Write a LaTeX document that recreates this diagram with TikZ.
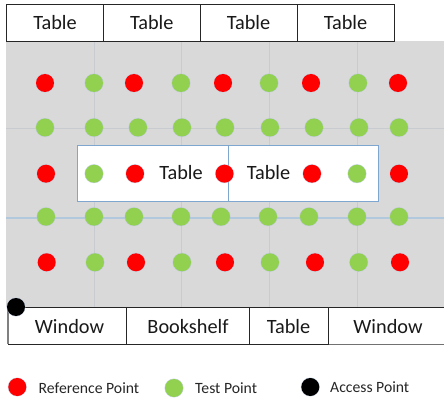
\documentclass[tikz,border=0pt]{standalone}
\usepackage{fontspec}
\setmainfont{Carlito}
\definecolor{roomgray}{HTML}{D9D9D9}
\definecolor{ptgreen}{HTML}{92D050}
\definecolor{ptred}{HTML}{FF0000}
\definecolor{gridgray}{HTML}{C8CBCF}
\definecolor{gridblue}{HTML}{B2C8DC}
\definecolor{tableblue}{HTML}{7FA6CE}
\definecolor{halo}{HTML}{B4C7E0}
\tikzset{
  x=1pt,y=-1pt,
  pt/.style={circle,minimum size=18pt,inner sep=0pt,outer sep=0pt,
    preaction={draw=halo,line width=1pt,draw opacity=.7}},
  rp/.style={pt,fill=ptred},
  tp/.style={pt,fill=ptgreen},
  ap/.style={pt,fill=black},
  furn/.style={draw=black!85,line width=.8pt,fill=white},
  mid/.style={draw=tableblue,line width=.9pt,fill=white},
  lab/.style={font=\fontsize{15.7}{17}\selectfont,anchor=west,inner sep=0pt,text=black!85},
  tlabel/.style={font=\fontsize{20.3}{22}\selectfont,inner sep=0pt,text=black!90},
  gline/.style={draw=gridgray,line width=1pt},
  bline/.style={draw=gridblue,line width=1.6pt},
}
\begin{document}
\begin{tikzpicture}
\useasboundingbox (0,0) rectangle (444,398);
\fill[roomgray] (6,41) rectangle (444,307);
% grid lines
\foreach \gx in {94,181,269,357}{\draw[gline] (\gx,41) -- (\gx,307);}
\draw[gline] (6,129) -- (444,129);
\draw[bline] (6,218) -- (444,218);
% top tables
\foreach \lx/\rx/\nm in {6.5/103.5/ta,103.5/200/tb,200/297/tc,297/394/td}{
  \draw[furn] (\lx,4) rectangle (\rx,41);
  \node[tlabel] (\nm) at ({(\lx+\rx)/2},22.5) {Table};
}
% central tables
\draw[mid] (77.5,145.5) rectangle (228,201);
\draw[mid] (228,145.5) rectangle (378,201);
\node[tlabel] (tm1) at (181,173) {Table};
\node[tlabel] (tm2) at (268.5,173) {Table};
% bottom furniture
\draw[furn] (8,307) rectangle (126,344);
\draw[furn] (126,307) rectangle (249.5,344);
\draw[furn] (249.5,307) rectangle (328.5,344);
\draw[furn] (328.5,307) -- (444.5,307) (444.5,344) -- (328.5,344) -- cycle;
\draw[draw=gray,line width=1.2pt] (8,307) -- (8,344);
\node[tlabel] (w1) at (69.5,326.5) {Window};
\node[tlabel] (bs) at (188,326.5) {Bookshelf};
\node[tlabel] (t5) at (288.5,326.5) {Table};
\node[tlabel] (w2) at (388,326.5) {Window};
% points
\foreach \px/\st [count=\i] in {45/rp,94/tp,134/rp,181/tp,223/rp,269/tp,311/rp,358/tp,398/rp}{\node[\st] (a\i) at (\px,83) {};}
\foreach \px [count=\i] in {45,94,138,182,225,270,314,359,399}{\node[tp] (b\i) at (\px,127.5) {};}
\foreach \px/\st [count=\i] in {46/rp,94/tp,135/rp,224.5/rp,312/rp,357/tp,399/rp}{\node[\st] (c\i) at (\px,173.7) {};}
\foreach \px [count=\i] in {46,94,134,181,221,268,309,357,399}{\node[tp] (d\i) at (\px,216.7) {};}
\foreach \px/\st [count=\i] in {46.7/rp,95/tp,136/rp,182/tp,225/rp,270/tp,315/rp,358.7/tp,400/rp}{\node[\st] (e\i) at (\px,262.3) {};}
\node[ap] (apt) at (16,307) {};
% legend
\node[rp] (lr) at (17.3,387) {};
\node[lab] (ltr) at (38.5,388) {Reference Point};
\node[tp] (lg) at (174,388) {};
\node[lab] (ltg) at (195,388) {Test Point};
\node[ap] (lb) at (310.3,387) {};
\node[lab] (ltb) at (330,387) {Access Point};
\end{tikzpicture}
\end{document}
